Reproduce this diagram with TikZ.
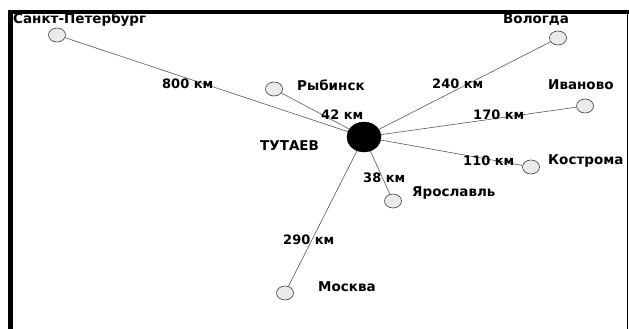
\documentclass[tikz,border=0pt]{standalone}
\usepackage{fontspec}
\setmainfont{DejaVu Sans}
\usetikzlibrary{shapes.geometric}
\begin{document}
\begin{tikzpicture}[x=1pt,y=-1pt,
  city/.style={ellipse,draw=black!75,line width=0.6pt,fill=black!8,minimum width=17pt,minimum height=14pt,inner sep=0pt},
  hub/.style={ellipse,fill=black,draw=black,minimum width=34pt,minimum height=30pt,inner sep=0pt},
  lbl/.style={anchor=west,inner sep=0pt,font=\fontsize{13.5}{15}\selectfont\bfseries},
  dist/.style={anchor=west,inner sep=0pt,font=\fontsize{13}{15}\selectfont\bfseries},
  road/.style={draw=black!65,line width=0.6pt}]
\useasboundingbox (0,0) rectangle (629,329);
\fill[white] (0,0) rectangle (629,329);
% frame
\draw[line width=4pt] (8,12) -- (629,12);
\draw[line width=5pt] (10.5,10) -- (10.5,329);
\draw[line width=1.5pt] (627.5,10) -- (627.5,329);
% nodes
\node[hub] (t) at (364,137) {};
\node[city] (spb) at (57,35) {};
\node[city] (ryb) at (274,89) {};
\node[city] (vol) at (558,38) {};
\node[city] (iva) at (585,106) {};
\node[city] (kos) at (531,167) {};
\node[city] (yar) at (393,201) {};
\node[city] (mos) at (285,293) {};
% roads
\path[road] (t) -- (spb);
\path[road] (t) -- (ryb);
\path[road] (t) -- (vol);
\path[road] (t) -- (iva);
\path[road] (t) -- (kos);
\path[road] (t) -- (yar);
\path[road] (t) -- (mos);
% labels
\node[lbl] (lspb) at (13,20) {Санкт-Петербург};
\node[lbl] (lryb) at (297,85) {Рыбинск};
\node[lbl] (lt) at (260,146) {ТУТАЕВ};
\node[lbl] (lvol) at (503,20) {Вологда};
\node[lbl] (liva) at (548,85) {Иваново};
\node[lbl] (lkos) at (548,161) {Кострома};
\node[lbl] (lyar) at (412,193) {Ярославль};
\node[lbl] (lmos) at (318,287) {Москва};
% distances
\node[dist] (d1) at (162,84) {800 км};
\node[dist] (d2) at (321,115) {42 км};
\node[dist] (d3) at (432,84) {240 км};
\node[dist] (d4) at (473,115) {170 км};
\node[dist] (d5) at (463,161) {110 км};
\node[dist] (d6) at (363,178) {38 км};
\node[dist] (d7) at (283,240) {290 км};
\end{tikzpicture}
\end{document}
